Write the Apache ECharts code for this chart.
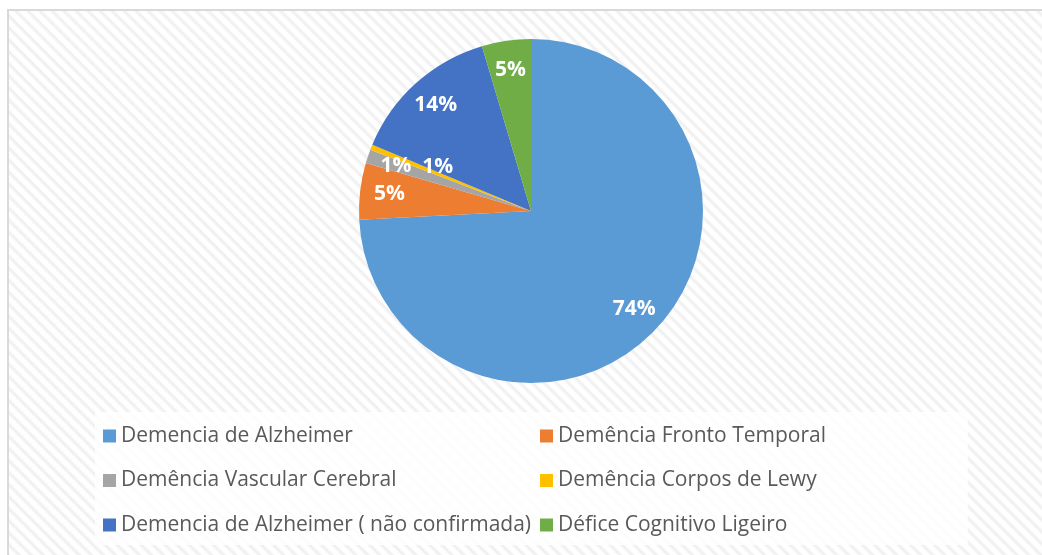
<!DOCTYPE html>
<html>
<head>
<meta charset="utf-8">
<script src="https://cdn.jsdelivr.net/npm/echarts@6/dist/echarts.min.js"></script>
<style>
  html, body { margin: 0; padding: 0; background: #ffffff; }
  #wrap { position: relative; width: 1042px; height: 555px; overflow: hidden; background: #fff; }
  #bg { position: absolute; left: 7px; top: 9px; width: 1100px; height: 600px;
        border-top: 2px solid #d9d9d9; border-left: 2px solid #d9d9d9;
        background: repeating-linear-gradient(45deg, #ffffff 0px, #ffffff 1.5px, #eeeeee 4.25px, #ffffff 7px, #ffffff 8.5px); }
  #chart { position: absolute; left: 0; top: 0; width: 1042px; height: 555px; }
</style>
</head>
<body>
<div id="wrap">
  <div id="bg"></div>
  <div id="chart"></div>
</div>
<script>
const categories = [
  'Demencia de Alzheimer',
  'Demência Fronto Temporal',
  'Demência Vascular Cerebral',
  'Demência Corpos de Lewy',
  'Demencia de Alzheimer ( não confirmada)',
  'Défice Cognitivo Ligeiro'
];
const values = [74.2, 5.3, 1.3, 0.5, 14.1, 4.6];
const colors = ['#5B9BD5', '#ED7D31', '#A5A5A5', '#FFC000', '#4472C4', '#70AD47'];
const legendLeftCol = [categories[0], categories[2], categories[4]];
const legendRightCol = [categories[1], categories[3], categories[5]];

const chart = echarts.init(document.getElementById('chart'), null, { renderer: 'canvas' });

const mainData = categories.map((name, i) => ({ name, value: values[i], itemStyle: { color: colors[i] } }));
const labelData = categories.map((name, i) => {
  const d = { name, value: values[i] };
  if (i === 3) d.label = { offset: [39, 9] };
  return d;
});

const legendText = { fontFamily: 'Open Sans', fontSize: 21, color: '#595959', lineHeight: 22 };

chart.setOption({
  backgroundColor: 'transparent',
  animation: false,
  graphic: [{
    type: 'rect', silent: true, z: -10,
    shape: { x: 95, y: 412, width: 873, height: 133 },
    style: { fill: 'rgba(255,255,255,0.8)' }
  }],
  legend: [{
    orient: 'vertical', left: 103, top: 425, padding: 0,
    itemWidth: 13, itemHeight: 13, itemGap: 22.5, icon: 'rect',
    selectedMode: false,
    data: legendLeftCol, textStyle: legendText
  }, {
    orient: 'vertical', left: 540, top: 425, padding: 0,
    itemWidth: 13, itemHeight: 13, itemGap: 22.5, icon: 'rect',
    selectedMode: false,
    data: legendRightCol, textStyle: legendText
  }],
  series: [{
    type: 'pie',
    center: [531, 211],
    radius: [0, 172],
    startAngle: 90,
    clockwise: true,
    label: { show: false },
    labelLine: { show: false },
    itemStyle: { borderWidth: 0 },
    emphasis: { disabled: true },
    data: mainData
  }, {
    type: 'pie',
    silent: true,
    center: [531, 211],
    radius: [107, 172],
    startAngle: 90,
    clockwise: true,
    itemStyle: { color: 'rgba(0,0,0,0)', borderWidth: 0 },
    label: {
      show: true, position: 'inside',
      formatter: p => Math.round(p.value) < 1 ? '1%' : Math.round(p.value) + '%',
      color: '#ffffff', fontFamily: 'Open Sans', fontWeight: 'bold', fontSize: 21
    },
    labelLine: { show: false },
    emphasis: { disabled: true },
    data: labelData
  }]
});
</script>
</body>
</html>
